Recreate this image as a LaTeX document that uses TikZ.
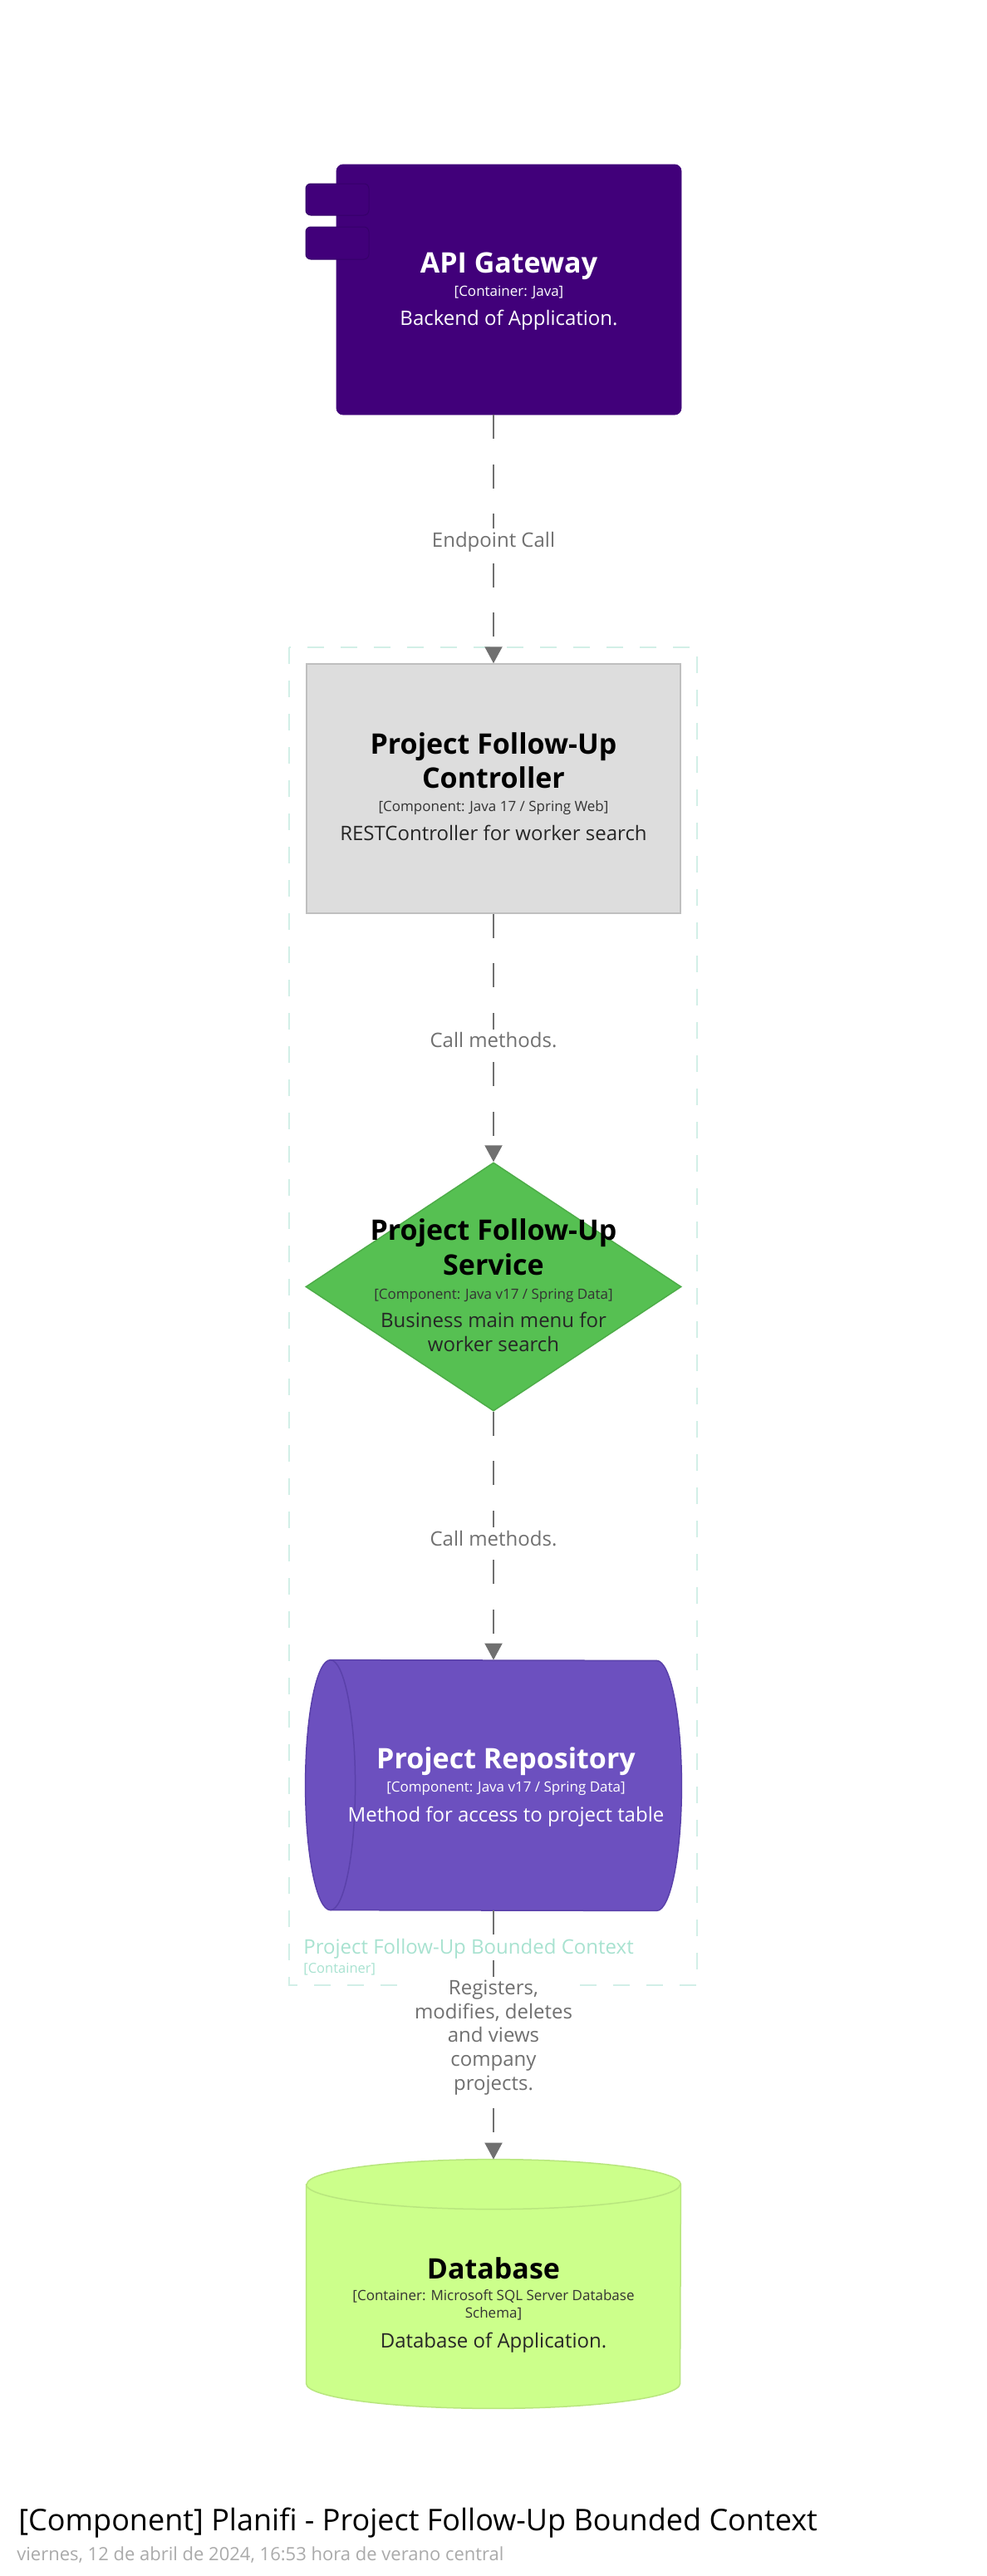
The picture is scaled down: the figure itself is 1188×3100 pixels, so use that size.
\documentclass[tikz,border=0pt]{standalone}
\usepackage{fontspec}
\setmainfont{Open Sans}
\usetikzlibrary{shapes.geometric,arrows.meta}

\definecolor{gwfill}{HTML}{41007A}
\definecolor{gwline}{HTML}{36006A}
\definecolor{ctrlfill}{HTML}{DDDDDD}
\definecolor{ctrlline}{HTML}{BFBFBF}
\definecolor{svcfill}{HTML}{56C052}
\definecolor{svcline}{HTML}{4DAD48}
\definecolor{repofill}{HTML}{6C50BF}
\definecolor{repoline}{HTML}{5A41AA}
\definecolor{dbfill}{HTML}{CCFF8B}
\definecolor{dbline}{HTML}{B8E67E}
\definecolor{bndline}{HTML}{D2EFE7}
\definecolor{bndtext}{HTML}{A8E2D0}
\definecolor{relgray}{HTML}{707070}
\definecolor{dategray}{HTML}{AAAAAA}

\tikzset{
  elname/.style={inner sep=0pt, anchor=base, font=\fontsize{17}{21}\selectfont\bfseries},
  eltech/.style={inner sep=0pt, anchor=base, font=\fontsize{8.5}{10}\selectfont},
  eldesc/.style={inner sep=0pt, anchor=base, font=\fontsize{12}{14.5}\selectfont},
  holder/.style={inner sep=0pt, draw=none},
  rel/.style={draw=relgray, line width=1pt, dash pattern=on 14.5pt off 15.25pt,
    -{Triangle[width=10.5pt,length=10pt]}},
  rellabel/.style={fill=white, text=relgray, align=center, inner sep=2pt, yshift=-1.5pt,
    font=\fontsize{12}{14.4}\selectfont},
}

\begin{document}
\begin{tikzpicture}[x=0.5pt,y=-0.5pt]
            \useasboundingbox (0,0) rectangle (1188,3100);
            \draw[bndline, line width=0.75pt, dash pattern=on 10pt off 10pt] (348,779) rectangle (839,2389);
            \node[inner sep=0pt, anchor=base west, text=bndtext, font=\fontsize{12}{14}\selectfont] (bndname) at (365,2351) {Project Follow-Up Bounded Context};
            \node[inner sep=0pt, anchor=base west, text=bndtext, font=\fontsize{8.25}{10}\selectfont] (bndtech) at (365,2374) {[Container]};

            \node[rectangle, rounded corners=4pt, fill=gwfill, draw=gwfill, inner sep=0pt, minimum width=207.5pt, minimum height=150.5pt] (gw) at (612.5,348.5) {};
            \filldraw[fill=gwfill, draw=gwline, line width=0.5pt, rounded corners=3pt] (368,221) rectangle (444,259);
            \filldraw[fill=gwfill, draw=gwline, line width=0.5pt, rounded corners=3pt] (368,273) rectangle (444,312);
            \node[elname, text=white] (gwname) at (612.5,328) {API Gateway};
            \node[eltech, text=white] (gwtech) at (612.5,356) {[Container: Java]};
            \node[eldesc, text=white] (gwdesc) at (612.5,391.5) {Backend of Application.};

            \node[rectangle, fill=ctrlfill, draw=ctrlline, line width=0.75pt, inner sep=0pt, minimum width=225pt, minimum height=150pt] (ctrl) at (594,949) {};
            \node[elname] (ctrlname) at (594,907) {Project Follow-Up};
            \node[elname] (ctrlname2) at (594,948) {Controller};
            \node[eltech, text=black!80] (ctrltech) at (594,976) {[Component: Java 17 / Spring Web]};
            \node[eldesc, text=black!85] (ctrldesc) at (594,1011) {RESTController for worker search};

            \node[diamond, fill=svcfill, draw=svcline, line width=0.75pt, inner sep=0pt, minimum width=226pt, minimum height=149.5pt] (svc) at (594,1548.5) {};
            \node[elname] (svcname) at (594,1492) {Project Follow-Up};
            \node[elname] (svcname2) at (594,1534) {Service};
            \node[eltech, text=black!80] (svctech) at (594,1563) {[Component: Java v17 / Spring Data]};
            \node[eldesc, text=black!85] (svcdesc) at (594,1597) {Business main menu for};
            \node[eldesc, text=black!85] (svcdesc2) at (594,1626) {worker search};

            \node[holder, minimum width=226pt, minimum height=150.5pt] (repo) at (594,2148.5) {};
            \filldraw[fill=repofill, draw=repoline, line width=0.75pt] ([xshift=15pt]repo.north west) arc[start angle=90, end angle=270, x radius=15pt, y radius=75.25pt] -- ([xshift=-15pt]repo.south east) arc[start angle=-90, end angle=90, x radius=15pt, y radius=75.25pt] -- cycle;
            \draw[repoline, line width=0.75pt] ([xshift=15pt]repo.north west) arc[start angle=90, end angle=-90, x radius=15pt, y radius=75.25pt];
            \node[elname, text=white] (reponame) at (609,2128) {Project Repository};
            \node[eltech, text=white] (repotech) at (609,2156) {[Component: Java v17 / Spring Data]};
            \node[eldesc, text=white] (repodesc) at (609,2192) {Method for access to project table};

            \node[holder, minimum width=225pt, minimum height=149.5pt] (db) at (594,2748.5) {};
            \filldraw[fill=dbfill, draw=dbline, line width=0.75pt] ([yshift=-15pt]db.north west) -- ([yshift=15pt]db.south west) arc[start angle=180, end angle=360, x radius=112.5pt, y radius=15pt] -- ([yshift=-15pt]db.north east) arc[start angle=0, end angle=180, x radius=112.5pt, y radius=15pt] -- cycle;
            \draw[dbline, line width=0.75pt] ([yshift=-15pt]db.north west) arc[start angle=180, end angle=360, x radius=112.5pt, y radius=15pt];
            \node[elname] (dbname) at (594,2742) {Database};
            \node[eltech, text=black!80] (dbtech) at (594,2768) {[Container: Microsoft SQL Server Database};
            \node[eltech, text=black!80] (dbtech2) at (594,2789) {Schema]};
            \node[eldesc, text=black!85] (dbdesc) at (594,2825) {Database of Application.};

            \draw[rel] (gw.south -| ctrl.north) -- node[rellabel] (callgw) {Endpoint Call} (ctrl.north);
            \draw[rel] (ctrl.south) -- node[rellabel] (callsvc) {Call methods.} (svc.north);
            \draw[rel] (svc.south) -- node[rellabel] (callrepo) {Call methods.} (repo.north);
            \draw[rel] (repo.south) -- node[rellabel] (calldb) {Registers,\\modifies, deletes\\and views\\company\\projects.} (db.north);

            \node[inner sep=0pt, anchor=base west, font=\fontsize{18}{22}\selectfont] (diagtitle) at (22,3045) {[Component] Planifi - Project Follow-Up Bounded Context};
            \node[inner sep=0pt, anchor=base west, text=dategray, font=\fontsize{11}{13}\selectfont] (diagdate) at (20,3081) {viernes, 12 de abril de 2024, 16:53 hora de verano central};
\end{tikzpicture}
\end{document}
